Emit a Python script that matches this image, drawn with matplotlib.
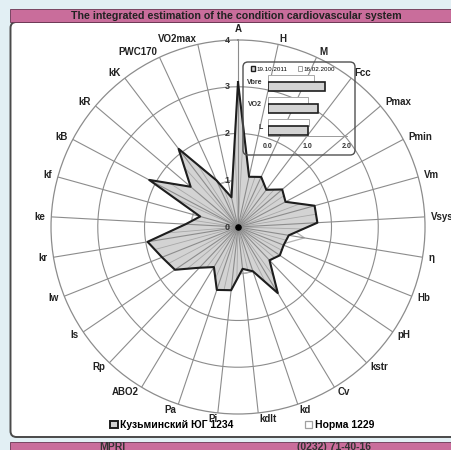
import numpy as np
import matplotlib.pyplot as plt
from matplotlib.patches import FancyBboxPatch, Rectangle

plt.rcParams['font.family'] = ['Liberation Sans', 'DejaVu Sans']

# radar data (values relative to norm)
categories = ['A', 'H', 'M', 'Fcc', 'Pmax', 'Pmin', 'Vm', 'Vsys', 'η', 'Hb', 'pH',
              'kstr', 'Cv', 'kd', 'kdlt', 'Pi', 'Pa', 'ABO2', 'Rp', 'ls', 'lw', 'kr',
              'ke', 'kf', 'kB', 'kR', 'kK', 'PWC170', 'VO2max']
patient = [3.1, 1.1, 1.18, 1.0, 1.24, 1.15, 1.7, 1.7, 1.1, 1.05, 1.08,
           0.98, 1.65, 1.0, 0.9, 1.36, 1.42, 1.0, 1.2, 1.63, 1.75, 1.96,
           1.12, 0.84, 2.15, 1.33, 2.1, 1.1, 0.65]
norma = [1.0, 1.0, 1.0, 1.0, 1.0, 1.0, 1.0, 1.0, 1.44, 1.0, 1.0,
         1.0, 1.0, 1.0, 1.0, 1.0, 1.0, 1.0, 1.0, 1.0, 1.0, 1.0,
         1.0, 1.0, 1.0, 1.0, 1.0, 1.0, 1.0]
ring_values = [0, 1, 2, 3, 4]
series_names = ['Кузьминский ЮГ 1234', 'Норма 1229']

# inset bar chart
inset_cats = ['Vbre', 'VO2', 'L']
inset_2011 = [1.45, 1.27, 1.0]
inset_2000 = [1.17, 1.0, 1.03]
inset_names = ['19.10.2011', '16.02.2000']

title = 'The integrated estimation of the condition cardiovascular system'
footer_left = 'MPRI'
footer_right = '(0232) 71-40-16'

pink = '#c96d9b'
grid_col = '#8c8c8c'

fig = plt.figure(figsize=(4.51, 4.5), dpi=100)
fig.patch.set_facecolor('#e2eff4')
inch = fig.dpi_scale_trans

# white panel, title bar, footer bar (behind the axes)
fig.patches.append(FancyBboxPatch((0.105, 0.13), 4.8, 4.15, boxstyle='round,pad=0,rounding_size=0.06',
                                  transform=inch, facecolor='white', edgecolor='#4a4a4a', lw=1.4,
                                  zorder=-2))
fig.patches.append(Rectangle((0.10, 4.28), 4.5, 0.13, transform=inch, facecolor=pink,
                             edgecolor='#6a3552', lw=0.6, zorder=-1))
fig.patches.append(Rectangle((0.10, 0.0), 4.5, 0.085, transform=inch, facecolor=pink,
                             edgecolor='#6a3552', lw=0.6, zorder=-1))
fig.text(2.365, 4.343, title, transform=inch, ha='center', va='center',
         fontsize=7.7, fontweight='bold', color='#222222')
fig.text(1.12, 0.075, footer_left, transform=inch, ha='center', va='top',
         fontsize=7.5, fontweight='bold', color='#333333')
fig.text(3.34, 0.075, footer_right, transform=inch, ha='center', va='top',
         fontsize=7.5, fontweight='bold', color='#333333')

# radar
ax = fig.add_axes([0.1131, 0.08, 0.8293, 0.8311], projection='polar')
ax.set_facecolor('none')
ax.set_theta_zero_location('N')
ax.set_theta_direction(-1)
ax.set_ylim(0, 4)
ax.set_xticks([])
ax.set_yticks([])
ax.grid(False)
ax.spines['polar'].set_color(grid_col)
ax.spines['polar'].set_linewidth(0.9)

n = len(categories)
theta = np.arange(n) * 2 * np.pi / n
full = np.linspace(0, 2 * np.pi, 400)
for r in ring_values[1:-1]:
    ax.plot(full, np.full_like(full, r), color=grid_col, lw=0.8, zorder=1)

th_c = np.append(theta, theta[0])
pat_c = np.append(patient, patient[0])
nor_c = np.append(norma, norma[0])

ax.plot(th_c, nor_c, color='#b4b4b4', lw=0.9, zorder=1.5)
ax.fill(th_c, pat_c, color='#d3d3d3', zorder=2)

# texture lines inside the polygon: to edge midpoints
xs = pat_c * np.sin(th_c)
ys = pat_c * np.cos(th_c)
mx = (xs[:-1] + xs[1:]) / 2
my = (ys[:-1] + ys[1:]) / 2
for a, b in zip(mx, my):
    ax.plot([0, np.arctan2(a, b)], [0, np.hypot(a, b)], color='#a8a8a8', lw=0.6, zorder=2.5)

for t in theta:
    ax.plot([t, t], [0, 4], color=grid_col, lw=0.8, zorder=3)

ax.plot(th_c, pat_c, color='#1e1e1e', lw=1.5, zorder=4)
ax.scatter([0], [0], s=14, color='black', zorder=5)

# category labels
for t, lab in zip(theta, categories):
    s, c = np.sin(t), np.cos(t)
    if s > 0.1:
        ha = 'left'
    elif s < -0.1:
        ha = 'right'
    else:
        ha = 'center'
    va = 'bottom' if c > 0.99 else 'center'
    ax.annotate(lab, xy=(t, 4), xytext=(4.3 * s, 4.3 * c), textcoords='offset points',
                ha=ha, va=va, fontsize=7, fontweight='bold', color='#222222',
                annotation_clip=False)

for v in ring_values:
    ax.annotate(str(v), xy=(0, v), xytext=(-8, 0), textcoords='offset points',
                ha='center', va='center', fontsize=6.5, fontweight='bold', color='#333333',
                annotation_clip=False, zorder=6)

# bottom legend
h_pat = Rectangle((0, 0), 1, 1, facecolor='#d3d3d3', edgecolor='#1e1e1e', lw=1.4)
h_nor = Rectangle((0, 0), 1, 1, facecolor='white', edgecolor='#a0a0a0', lw=0.9)
fig.legend([h_pat, h_nor], series_names, loc='center left', bbox_to_anchor=(110 / 451, 1 - 425 / 450),
           ncol=2, frameon=False, prop={'size': 7.5, 'weight': 'bold'}, handlelength=0.75,
           handleheight=0.75, handletextpad=0.25, columnspacing=6.8, borderpad=0, borderaxespad=0)

# inset bar chart
fig.patches.append(FancyBboxPatch((2.43, 2.95), 1.12, 0.93, boxstyle='round,pad=0,rounding_size=0.05',
                                  transform=inch, facecolor='none', edgecolor='#505050', lw=1.0,
                                  zorder=5))
bx = fig.add_axes([268 / 451, (450 - 136) / 450, 79 / 451, 64 / 450])
bx.set_facecolor('none')
yi = np.arange(len(inset_cats))
bx.barh(yi - 0.17, inset_2000, height=0.32, color='white', edgecolor='#a8a8a8', lw=0.7)
bx.barh(yi + 0.19, inset_2011, height=0.41, color='#d3d3d3', edgecolor='#1e1e1e', lw=1.2)
bx.set_xlim(0, 2)
bx.set_ylim(2.45, -0.45)
for sp in ['top', 'right', 'left']:
    bx.spines[sp].set_visible(False)
bx.spines['bottom'].set_color('#9a9a9a')
bx.spines['bottom'].set_linewidth(0.7)
bx.set_xticks([0, 1, 2])
bx.set_xticklabels(['0.0', '1.0', '2.0'], fontsize=5, fontweight='bold', color='#333333')
bx.set_yticks(yi)
bx.set_yticklabels(inset_cats, fontsize=5, fontweight='bold', color='#333333')
bx.tick_params(length=0, pad=5)
bx.tick_params(axis='y', pad=4)

i_dark = Rectangle((0, 0), 1, 1, facecolor='#d3d3d3', edgecolor='#1e1e1e', lw=1.0)
i_light = Rectangle((0, 0), 1, 1, facecolor='white', edgecolor='#a0a0a0', lw=0.7)
fig.legend([i_dark, i_light], inset_names, loc='center left', bbox_to_anchor=(251 / 451, 1 - 69 / 450),
           ncol=2, frameon=False, prop={'size': 4.5}, handlelength=0.7, handleheight=0.7,
           handletextpad=0.2, columnspacing=1.6, borderpad=0, borderaxespad=0)

fig.savefig('out.png', dpi=100)
